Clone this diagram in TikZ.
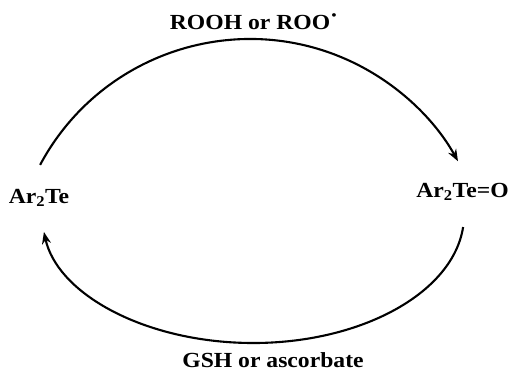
\documentclass[tikz,border=0pt]{standalone}
\usepackage{fontspec}
\setmainfont{Liberation Serif}[FakeStretch=1.1]
\usetikzlibrary{arrows.meta}
\begin{document}
\begin{tikzpicture}[x=1pt,y=1pt,
  lbl/.style={font=\fontsize{21.5}{25}\selectfont\bfseries, inner sep=0pt, anchor=base},
  arc/.style={line width=2.1pt, -{Stealth[length=12pt,width=9pt]}}]
\useasboundingbox (0,0) rectangle (508,376);
\node[lbl] (ar2te) at (39,173) {Ar\textsubscript{2}Te};
\node[lbl] (ar2teo) at (462.5,179) {Ar\textsubscript{2}Te=O};
\node[lbl] (oxid) at (254,347) {ROOH or ROO\raisebox{0.3em}{·}};
\node[lbl] (red) at (273,9) {GSH or ascorbate};
\coordinate (t1) at (40.1,211.1);
\coordinate (b1) at (463.1,148.95);
\draw[arc] (t1) arc[start angle=151.9, end angle=29.1, radius=238];
\draw[arc] (b1) arc[start angle=-5.4, end angle=-172.4, x radius=211, y radius=128];
\end{tikzpicture}
\end{document}
